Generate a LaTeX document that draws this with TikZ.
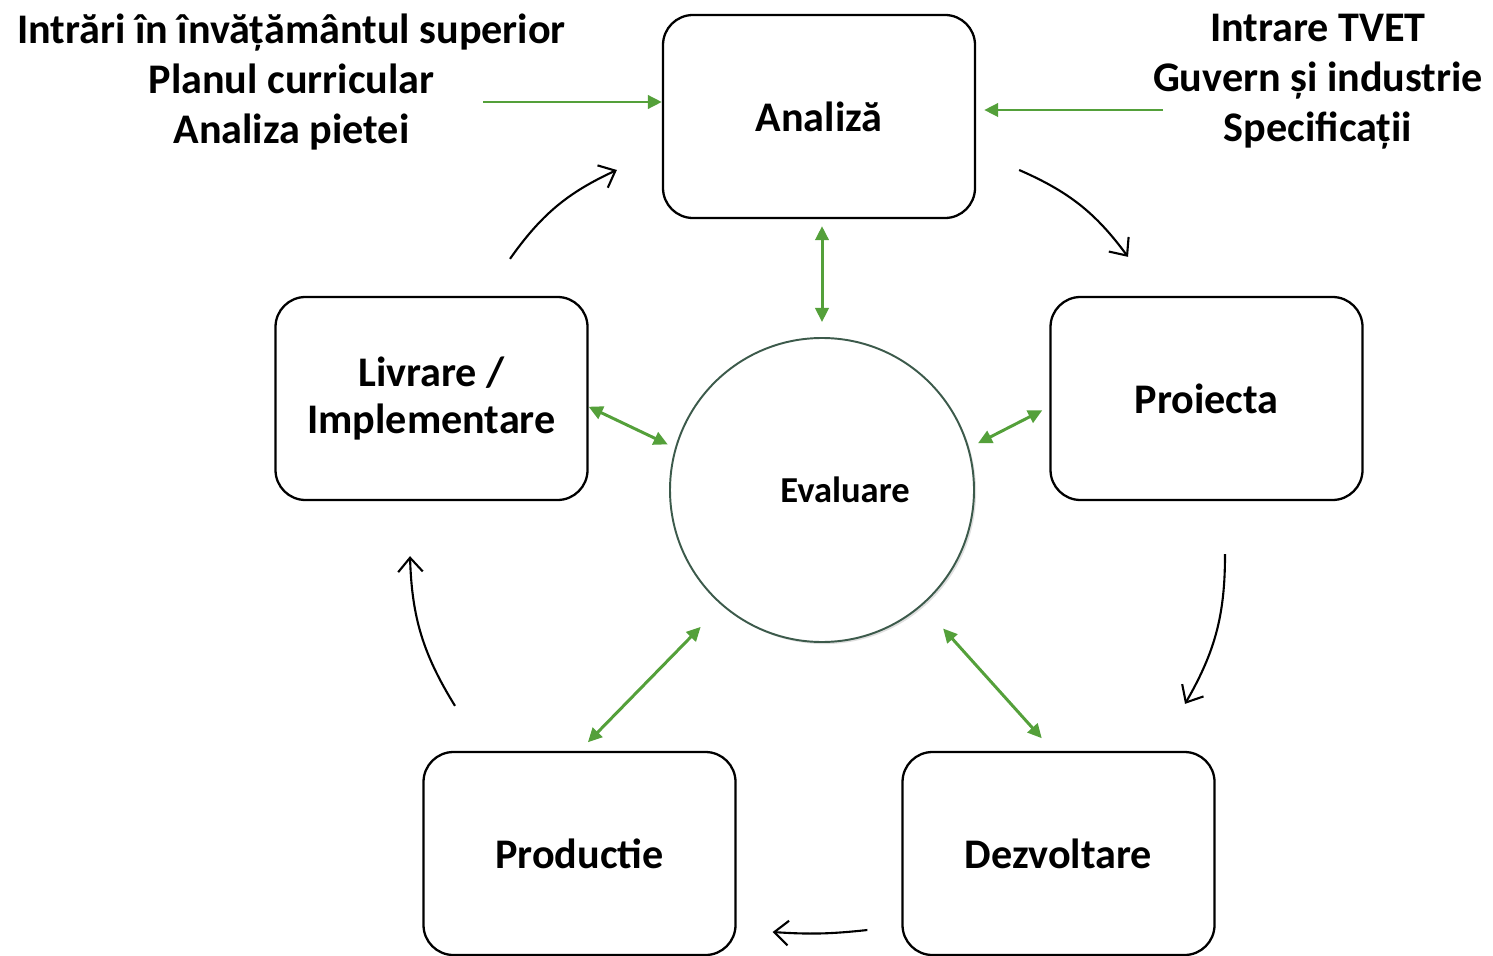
\documentclass[tikz,border=0pt]{standalone}
\usepackage{fontspec}
\setmainfont{Carlito}
\usepackage{xcolor}
\usetikzlibrary{positioning,calc,arrows.meta,shadows}

\definecolor{arrgreen}{RGB}{84,160,58}
\definecolor{ringgreen}{RGB}{60,90,75}

\tikzset{
    stage/.style={draw, line width=0.65pt, rounded corners=0.3cm, minimum width=3.12cm, minimum height=2.03cm, align=center, font=\fontsize{12}{13.4}\selectfont\bfseries},
    intext/.style={align=center, font=\fontsize{12}{14.2}\selectfont\bfseries},
    evcircle/.style={circle, draw=ringgreen, line width=0.55pt, minimum size=3.04cm, inner sep=0pt, fill=white, drop shadow={shadow xshift=0.6pt, shadow yshift=-0.6pt, opacity=0.25}},
    cyc/.style={line width=0.6pt, -{Straight Barb[length=4pt,width=7pt]}},
    feed/.style={arrgreen, line width=0.85pt, {Triangle[length=4pt,width=3.8pt]}-{Triangle[length=4pt,width=3.8pt]}},
    feedin/.style={arrgreen, line width=0.85pt, -{Triangle[length=4pt,width=3.8pt]}}
}

\begin{document}
\begin{tikzpicture}
    \useasboundingbox (0,0) rectangle (14.93,-9.56);

    % stages of the cycle
    \node[stage] (ana) at (8.19,-1.165) {Analiză};
    \node[stage] (proj) at (12.065,-3.985) {Proiecta};
    \node[stage] (dezv) at (10.585,-8.535) {Dezvoltare};
    \node[stage] (prod) at (5.795,-8.535) {Productie};
    \node[stage] (liv) at (4.315,-3.985) {Livrare /\\ Implementare};
    \node[evcircle, label={[xshift=0.23cm, font=\fontsize{10.4}{12}\selectfont\bfseries]center:Evaluare}] (evl) at (8.22,-4.90) {};

    % inputs
    \node[intext] (inL) at (2.915,-0.82) {Intrări în învățământul superior\\ Planul curricular\\ Analiza pietei};
    \node[intext] (inR) at (13.18,-0.82) {Intrare TVET\\ Guvern și industrie\\ Specificații};
    \coordinate (inLend) at (4.83,-1.02);
    \coordinate (inRend) at (11.63,-1.10);
    \draw[feedin] (inLend) -- (ana.west |- inLend);
    \draw[feedin] (inRend) -- ($(ana.east |- inRend)+(0.08,0)$);

    % cycle
    \draw[cyc] ($(liv.north)+(0.785,0.37)$) to[bend left=15] ($(ana.west)+(-0.45,-0.535)$);
    \draw[cyc] ($(ana.east)+(0.43,-0.535)$) to[bend left=15] ($(proj.north)+(-0.785,0.39)$);
    \draw[cyc] ($(proj.south)+(0.185,-0.53)$) to[bend left=15] ($(dezv.north)+(1.265,0.47)$);
    \draw[cyc] ($(dezv.west)+(-0.34,-0.765)$) to[bend left=5] ($(prod.east)+(0.36,-0.785)$);
    \draw[cyc] ($(prod.north)+(-1.245,0.45)$) to[bend left=15] ($(liv.south)+(-0.215,-0.55)$);

    % evaluation links
    \draw[feed, shorten <=0.07cm, shorten >=0.15cm] (evl.north |- ana.south) -- (evl.north);
    \draw[feed, shorten >=0.08cm] (liv.-3) -- (evl.164);
    \draw[feed, shorten <=0.1cm, shorten >=0.08cm] (evl.16) -- (proj.183);
    \draw[feed, shorten <=0.12cm, shorten >=0.3cm] (prod.north) -- (evl.229);
    \draw[feed, shorten <=0.31cm, shorten >=0.17cm] (evl.311) -- (dezv.93);
\end{tikzpicture}
\end{document}
